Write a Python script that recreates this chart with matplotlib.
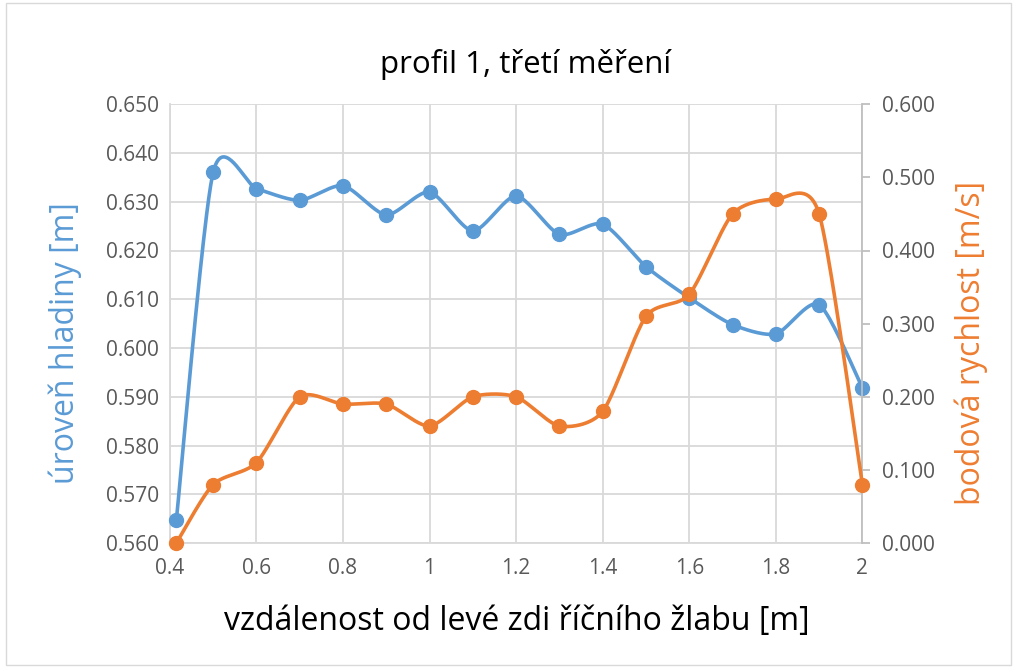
import numpy as np
import matplotlib.pyplot as plt
from matplotlib.patches import Rectangle

# vzdálenost od levé zdi [m]
x = [0.415, 0.5, 0.6, 0.7, 0.8, 0.9, 1.0, 1.1, 1.2, 1.3, 1.4, 1.5, 1.6, 1.7, 1.8, 1.9, 2.0]
# úroveň hladiny [m]
hladina = [0.5647, 0.6360, 0.6327, 0.6303, 0.6333, 0.6273, 0.6320, 0.6240, 0.6312,
           0.6233, 0.6254, 0.6167, 0.6103, 0.6048, 0.6029, 0.6089, 0.5918]
# bodová rychlost [m/s]
rychlost = [0.000, 0.080, 0.110, 0.200, 0.190, 0.190, 0.160, 0.200, 0.200,
            0.160, 0.180, 0.310, 0.340, 0.450, 0.470, 0.450, 0.080]

BLUE = "#5B9BD5"
ORANGE = "#ED7D31"
GREY = "#595959"
GRID = "#D9D9D9"

XLIM = (0.4, 2.0)
YLIM_L = (0.560, 0.650)
YLIM_R = (0.0, 0.6)
AX_POS = [0.167, 0.187, 0.681, 0.657]
W, H = 1017, 668


def smooth(xs, ys, xlim, ylim, n=40, k=8.0):
    # Excel-like smoothing: bezier segments, control points from neighbours,
    # computed in pixel space so the shape matches the screen proportions
    sx = AX_POS[2] * W / (xlim[1] - xlim[0])
    sy = AX_POS[3] * H / (ylim[1] - ylim[0])
    p = np.column_stack([np.asarray(xs) * sx, np.asarray(ys) * sy])
    pad = np.vstack([p[0], p, p[-1]])
    t = np.linspace(0, 1, n)[:, None]
    out = []
    for i in range(len(p) - 1):
        p0, p3 = p[i], p[i + 1]
        c1 = p0 + (pad[i + 2] - pad[i]) / k
        c2 = p3 - (pad[i + 3] - pad[i + 1]) / k
        seg = ((1 - t) ** 3) * p0 + 3 * ((1 - t) ** 2) * t * c1 + 3 * (1 - t) * t ** 2 * c2 + t ** 3 * p3
        out.append(seg)
    out = np.vstack(out)
    return out[:, 0] / sx, out[:, 1] / sy


plt.rcParams['font.family'] = ['Open Sans', 'DejaVu Sans']

fig = plt.figure(figsize=(W / 100, H / 100), dpi=100)
fig.add_artist(Rectangle((0.006, 0.004), 0.988, 0.992, transform=fig.transFigure,
                         fill=False, edgecolor=GRID, linewidth=1))

ax = fig.add_axes(AX_POS)
ax2 = ax.twinx()

ax.set_xlim(*XLIM)
ax.set_ylim(*YLIM_L)
ax2.set_ylim(*YLIM_R)

ax.set_xticks(np.arange(0.4, 2.01, 0.2))
ax.set_xticklabels(["0.4", "0.6", "0.8", "1", "1.2", "1.4", "1.6", "1.8", "2"])
ax.set_yticks(np.arange(0.560, 0.6501, 0.01))
ax.set_yticklabels([f"{v:.3f}" for v in np.arange(0.560, 0.6501, 0.01)])
ax2.set_yticks(np.arange(0.0, 0.601, 0.1))
ax2.set_yticklabels([f"{v:.3f}" for v in np.arange(0.0, 0.601, 0.1)])

ax.grid(True, color=GRID, linewidth=1.3)
ax.set_axisbelow(True)
for a in (ax, ax2):
    for s in a.spines.values():
        s.set_visible(False)
ax.spines['left'].set_visible(True)
ax.spines['bottom'].set_visible(True)
ax2.spines['right'].set_visible(True)
ax.spines['left'].set_color(GRID)
ax.spines['bottom'].set_color(GRID)
ax2.spines['right'].set_color("#BFBFBF")
ax.spines['left'].set_linewidth(1.3)
ax.spines['bottom'].set_linewidth(1.3)
ax2.spines['right'].set_linewidth(1.3)

ax.tick_params(axis='both', length=0, labelsize=15, labelcolor=GREY, pad=8)
ax.tick_params(axis='x', pad=11)
ax2.tick_params(axis='y', length=6, width=1.3, color="#BFBFBF", labelsize=15,
                labelcolor=GREY, pad=8)

bx, by = smooth(x, hladina, XLIM, YLIM_L)
ax.plot(bx, by, color=BLUE, linewidth=2.6, clip_on=False, zorder=3)
ax.plot(x, hladina, 'o', color=BLUE, markersize=10, clip_on=False, zorder=4)

ox, oy = smooth(x, rychlost, XLIM, YLIM_R)
ax2.plot(ox, oy, color=ORANGE, linewidth=2.6, clip_on=False, zorder=3)
ax2.plot(x, rychlost, 'o', color=ORANGE, markersize=10, clip_on=False, zorder=4)

fig.text(0.5165, 0.903, "profil 1, třetí měření", ha='center', va='center', fontsize=22.5,
         color="black")
fig.text(0.508, 0.069, "vzdálenost od levé zdi říčního žlabu [m]", ha='center', va='center',
         fontsize=23, color="black")
fig.text(0.064, 0.487, "úroveň hladiny [m]", ha='center', va='center', rotation=90,
         fontsize=23, color=BLUE)
fig.text(0.955, 0.487, "bodová rychlost [m/s]", ha='center', va='center', rotation=90,
         fontsize=23, color=ORANGE)

fig.savefig("out.png", dpi=100)
